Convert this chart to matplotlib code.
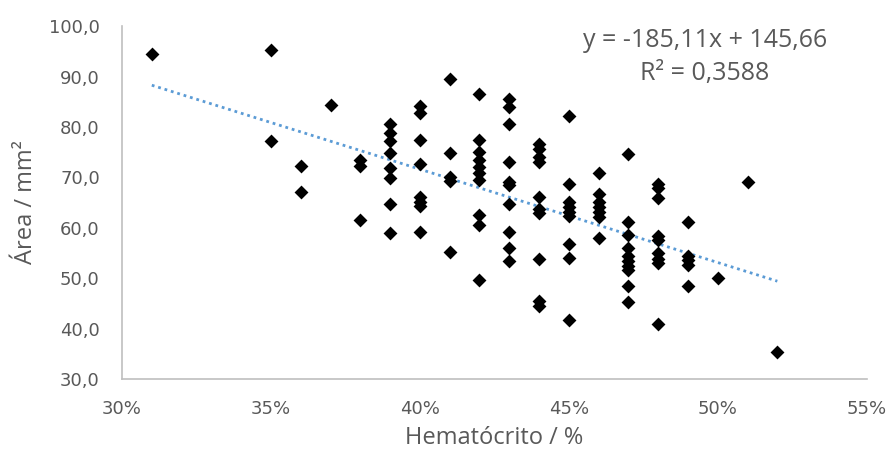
import numpy as np
import matplotlib
matplotlib.use("Agg")
import matplotlib.pyplot as plt
from matplotlib.ticker import FuncFormatter, MultipleLocator

# hematocrit (%) and area (mm²), grouped by column
hematocrit = (
    [31]
    + [35] * 2
    + [36] * 2
    + [37]
    + [38] * 3
    + [39] * 8
    + [40] * 8
    + [41] * 5
    + [42] * 10
    + [43] * 10
    + [44] * 10
    + [45] * 9
    + [46] * 7
    + [47] * 10
    + [48] * 9
    + [49] * 5
    + [50]
    + [51]
    + [52]
)
area = [
    94.4,
    95.3, 77.2,
    72.2, 67.1,
    84.3,
    73.4, 72.2, 61.5,
    80.5, 78.8, 77.2, 74.8, 71.8, 69.8, 64.8, 58.9,
    84.1, 82.7, 77.5, 72.6, 66.1, 65.2, 64.4, 59.1,
    89.6, 74.8, 70.0, 69.2, 55.2,
    86.5, 77.4, 75.0, 73.5, 72.0, 70.8, 69.5, 62.5, 60.5, 49.6,
    85.6, 84.0, 80.5, 73.1, 69.1, 68.5, 64.8, 59.2, 55.9, 53.4,
    76.6, 75.6, 74.1, 73.1, 66.2, 63.8, 62.9, 53.8, 45.4, 44.4,
    82.2, 68.7, 65.2, 64.2, 63.2, 62.4, 56.8, 54.1, 41.7,
    70.9, 66.6, 65.2, 64.1, 63.1, 62.1, 58.0,
    74.7, 61.2, 58.5, 55.9, 54.3, 53.4, 52.5, 51.6, 48.4, 45.3,
    68.7, 67.8, 65.9, 58.4, 57.6, 54.9, 53.9, 53.0, 41.0,
    61.2, 54.3, 53.6, 52.6, 48.4,
    50.0,
    69.0,
    35.3,
]
# linear trend shown on the chart
slope = -185.11
intercept = 145.66
r_squared = 0.3588

GRAY = "#595959"
AXIS = "#bfbfbf"

x_frac = np.array(hematocrit) / 100.0

fig = plt.figure(figsize=(8.88, 4.58), dpi=100)
ax = fig.add_axes([0.1374, 0.1725, 0.8386, 0.7705])

ax.scatter(x_frac, area, marker="D", s=50, color="black", zorder=3, linewidths=0)

trend_x = np.array([x_frac.min(), x_frac.max()])
ax.plot(trend_x, slope * trend_x + intercept, color="#5b9bd5",
        linestyle=(0, (1, 1.4)), linewidth=2.0, zorder=2)

ax.set_xlim(0.30, 0.55)
ax.set_ylim(30, 100)
ax.xaxis.set_major_locator(MultipleLocator(0.05))
ax.yaxis.set_major_locator(MultipleLocator(10))
ax.xaxis.set_major_formatter(FuncFormatter(lambda v, _: f"{v * 100:.0f}%"))
ax.yaxis.set_major_formatter(FuncFormatter(lambda v, _: f"{v:.1f}".replace(".", ",")))

for side in ("top", "right"):
    ax.spines[side].set_visible(False)
for side in ("left", "bottom"):
    ax.spines[side].set_color(AXIS)
    ax.spines[side].set_linewidth(1.2)

ax.tick_params(axis="y", length=0, labelsize=13, colors=GRAY, pad=16)
ax.tick_params(axis="x", length=0, labelsize=13, colors=GRAY, pad=15)
ax.set_xlabel("Hematócrito / %", fontsize=17, color=GRAY, labelpad=6,
              family="Open Sans")
ax.set_ylabel("Área / mm²", fontsize=17, color=GRAY, labelpad=8,
              family="Open Sans")

ax.text(0.7826, 0.960, f"y = {slope:.2f}x + {intercept:.2f}".replace(".", ","),
        transform=ax.transAxes, ha="center", va="center",
        fontsize=18, color=GRAY, family="Open Sans")
ax.text(0.7826, 0.867, f"R² = {r_squared:.4f}".replace(".", ","),
        transform=ax.transAxes, ha="center", va="center",
        fontsize=18, color=GRAY, family="Open Sans")

fig.savefig("out.png", dpi=100)
